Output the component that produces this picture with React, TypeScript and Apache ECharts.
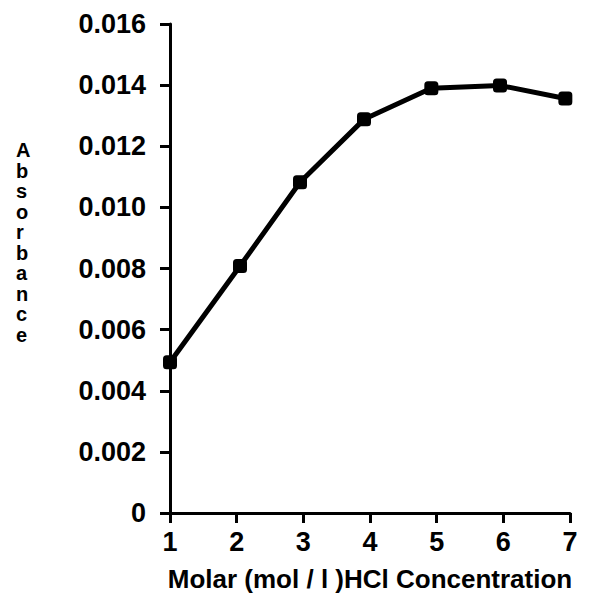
import React, { useEffect, useRef } from "react";
import * as echarts from "echarts";

const concentration = [1, 2.05, 2.95, 3.91, 4.92, 5.95, 6.93];
const absorbance = [0.00493, 0.00808, 0.01082, 0.01288, 0.0139, 0.01399, 0.01356];
const xTitle = "Molar (mol / l )HCl Concentration";
const yTitle = "Absorbance";

export default function App() {
  const ref = useRef<HTMLDivElement>(null);
  useEffect(() => {
    if (!ref.current) return;
    const chart = echarts.init(ref.current, undefined, { renderer: "svg" });
    const font = "'Liberation Sans', Arial, sans-serif";
    chart.setOption({
      animation: false,
      backgroundColor: "#ffffff",
      grid: { left: 170, right: 21, top: 24, bottom: 76, containLabel: false },
      xAxis: {
        type: "value",
        min: 1,
        max: 7,
        interval: 1,
        name: xTitle,
        nameLocation: "middle",
        nameGap: 53,
        nameTextStyle: { fontFamily: font, fontWeight: "bold", fontSize: 26, color: "#000" },
        axisLine: { show: true, onZero: false, lineStyle: { color: "#000", width: 3 } },
        axisTick: { show: true, length: 10, lineStyle: { color: "#000", width: 3 } },
        axisLabel: { margin: 15, fontFamily: font, fontWeight: "bold", fontSize: 27, color: "#000" },
        splitLine: { show: false },
      },
      yAxis: {
        type: "value",
        min: 0,
        max: 0.016,
        interval: 0.002,
        axisLine: { show: true, onZero: false, lineStyle: { color: "#000", width: 3 } },
        axisTick: { show: true, length: 10, lineStyle: { color: "#000", width: 3 } },
        axisLabel: {
          margin: 24,
          fontFamily: font,
          fontWeight: "bold",
          fontSize: 27,
          color: "#000",
          formatter: (v: number) => (v === 0 ? "0" : v.toFixed(3)),
        },
        splitLine: { show: false },
      },
      graphic: [
        {
          type: "text",
          left: 16,
          top: 140,
          style: {
            text: yTitle.split("").join("\n"),
            fontFamily: font,
            fontWeight: "bold",
            fontSize: 20,
            lineHeight: 20.5,
            fill: "#000",
            align: "center",
          },
        },
      ],
      series: [
        {
          type: "line",
          data: concentration.map((x, i) => [x, absorbance[i]]),
          symbol: "roundRect",
          symbolSize: 14,
          lineStyle: { color: "#000", width: 5 },
          itemStyle: { color: "#000" },
        },
      ],
    });
    return () => chart.dispose();
  }, []);
  return <div ref={ref} style={{ position: "fixed", left: 0, top: 0, width: 591, height: 597 }} />;
}
